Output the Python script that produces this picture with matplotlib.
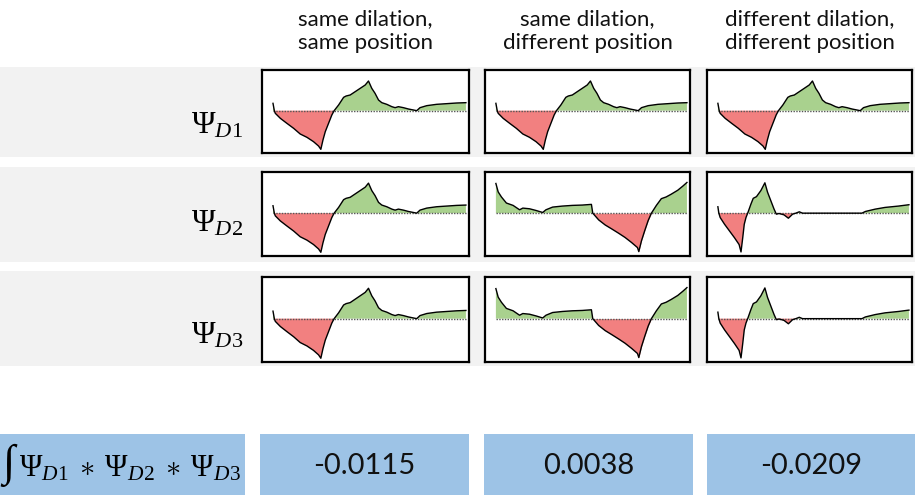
import matplotlib.pyplot as plt
from matplotlib.patches import Rectangle

plt.rcParams["mathtext.fontset"] = "custom"
plt.rcParams["mathtext.rm"] = "Liberation Serif"
plt.rcParams["mathtext.it"] = "Liberation Serif:italic"
TEXT_FONT = ["Lato", "DejaVu Sans"]

# wavelet: position (0-100 across the curve) and height
base_pos = [0, 0.7, 1.2, 3.8, 7.2, 10.7, 14.1, 17.6, 21.0, 23.6, 24.8, 25.9, 27.1, 28.8,
            30.5, 31.7, 34.0, 36.6, 37.9, 40.0, 42.6, 45.2, 47.8, 49.5, 51.2, 52.9, 54.7,
            56.4, 59.0, 61.6, 63.3, 65.0, 67.6, 70.2, 72.8, 74.5, 76.2, 79.7, 84.8, 90.0,
            95.2, 100]
base_val = [22, 0, -8, -23, -38, -53, -70, -80, -93, -106, -116, -88, -63, -38,
            -13, 0, 17, 40, 44, 47, 57, 67, 77, 89, 67, 52, 32,
            24, 19, 12, 9, 12, 9, 5, 2, 0, 9, 15, 19, 21,
            23, 24]

# same dilation, shifted position
shift_pos = [0, 1.2, 2.9, 5.5, 9.0, 12.4, 14.1, 17.6, 21.0, 24.5, 26.2, 29.7, 34.8, 40.0,
             45.2, 50.0, 50.7, 53.8, 57.2, 60.7, 64.1, 67.6, 71.0, 74.1, 74.8, 76.2, 77.9,
             79.7, 81.4, 84.0, 86.6, 89.1, 91.7, 95.2, 97.8, 100]
shift_val = [88, 63, 48, 30, 23, 10, 15, 13, 8, 2, 10, 18, 21, 23,
             24, 26, 0, -20, -35, -47, -59, -72, -87, -102, -114, -82, -52,
             -22, 0, 23, 43, 48, 56, 68, 80, 91]

# different dilation, different position
dil_pos = [0, 0.5, 1.2, 3.5, 6.1, 8.7, 11.1, 12.1, 13.0, 13.8, 14.7, 15.6, 17.3, 18.5,
           20.2, 22.5, 24.6, 26.0, 27.7, 29.4, 30.6, 32.0, 34.6, 36.9, 39.1, 40.8, 42.6,
           44.3, 51.2, 59.9, 75.4, 77.2, 82.4, 87.5, 94.5, 100]
dil_val = [19, 0, -13, -33, -53, -73, -93, -115, -73, -33, -13, 0, 27, 44,
           49, 67, 90, 62, 37, 12, -3, -1, -5, -15, -3, 0, 4,
           0, 0, 0, 0, 5, 12, 17, 21, 25]

col_titles = ["same dilation,\nsame position",
              "same dilation,\ndifferent position",
              "different dilation,\ndifferent position"]
row_labels = [r"$\Psi_{D1}$", r"$\Psi_{D2}$", r"$\Psi_{D3}$"]
integral_label = r"$\Psi_{D1}\;\ast\;\Psi_{D2}\;\ast\;\Psi_{D3}$"
integral_values = ["-0.0115", "0.0038", "-0.0209"]

shapes = {"base": (base_pos, base_val),
          "shift": (shift_pos, shift_val),
          "dil": (dil_pos, dil_val)}
layout = [["base", "base", "base"],
          ["base", "shift", "dil"],
          ["base", "shift", "dil"]]

W, H = 915, 495
fig = plt.figure(figsize=(W / 100, H / 100), dpi=100)
bg = fig.add_axes([0, 0, 1, 1])
bg.set_xlim(0, W)
bg.set_ylim(H, 0)
bg.axis("off")

band_y = [(67, 157), (167, 262), (271, 366)]
box_x = [(262, 469), (485, 690), (707, 912)]
box_y = [(70, 153), (172, 256), (277, 362)]
label_y = [125, 223, 335]

for (y0, y1), lab, ly in zip(band_y, row_labels, label_y):
    bg.add_patch(Rectangle((0, y0), W, y1 - y0, color="#f2f2f2", lw=0))
    bg.text(243, ly, lab, fontsize=23, ha="right", va="center")

for (x0, x1), title in zip(box_x, col_titles):
    bg.text((x0 + x1) / 2, 31, title, fontsize=16, ha="center", va="center",
            linespacing=1.2, family=TEXT_FONT, color="#111111")

# bottom row of blue boxes
blue = "#9dc3e6"
bottom_x = [(0, 245), (260, 469), (484, 693), (707, 915)]
for x0, x1 in bottom_x:
    bg.add_patch(Rectangle((x0, 434), x1 - x0, H - 434, color=blue, lw=0))
bg.text(2, 465, "\u222b", fontsize=32, ha="left", va="center", family="Liberation Serif")
bg.text(19, 468, integral_label, fontsize=22, ha="left", va="center")
for (x0, x1), val in zip(bottom_x[1:], integral_values):
    bg.text((x0 + x1) / 2, 466, val, fontsize=21, ha="center", va="center",
            family=TEXT_FONT, color="#111111")

green = "#a9d18e"
red = "#f28080"
for r in range(3):
    for c in range(3):
        x0, x1 = box_x[c]
        y0, y1 = box_y[r]
        ax = fig.add_axes([x0 / W, 1 - y1 / H, (x1 - x0) / W, (y1 - y0) / H])
        pos, val = shapes[layout[r][c]]
        ax.fill_between(pos, val, 0, where=[v >= 0 for v in val], interpolate=True,
                        color=green, lw=0)
        ax.fill_between(pos, val, 0, where=[v <= 0 for v in val], interpolate=True,
                        color=red, lw=0)
        ax.plot([pos[0], pos[-1]], [0, 0], ls=(0, (1, 1)), color="#555555", lw=1)
        ax.plot(pos, val, color="black", lw=1)
        ax.set_xlim(-5.7, 101.6)
        ax.set_ylim(-127, 122)
        ax.set_xticks([])
        ax.set_yticks([])
        for s in ax.spines.values():
            s.set_linewidth(1.6)
            s.set_color("black")

fig.savefig("out.png", dpi=100)
